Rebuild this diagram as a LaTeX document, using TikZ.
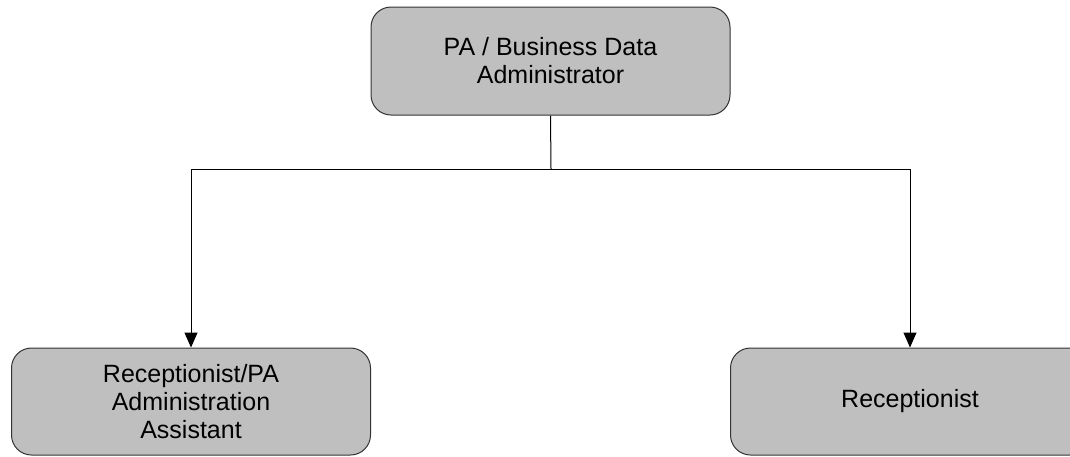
\documentclass[tikz,border=0pt]{standalone}
\usepackage{fontspec}
\setmainfont{Liberation Sans}
\usetikzlibrary{arrows.meta}
\tikzset{
  role/.style={draw=black!80, fill=black!25, line width=1pt, rounded corners=20pt,
    minimum width=359pt, minimum height=107pt, align=center, inner sep=0pt,
    font=\fontsize{25}{28}\selectfont},
  conn/.style={draw=black, line width=1pt},
  arr/.style={conn, -{Triangle[width=13pt,length=15pt]}}
}
\begin{document}
\begin{tikzpicture}[x=1pt,y=-1pt]
\useasboundingbox (0,0) rectangle (1070,456);
\clip (0,0) rectangle (1070,456);
\node[role, minimum height=108pt] (top) at (550.5,61) {PA / Business Data\\Administrator};
\node[role] (left) at (191,401.5) {Receptionist/PA\\Administration\\Assistant};
\node[role] (right) at (910,401.5) {Receptionist};
\coordinate (hub) at (551,169);
\draw[conn] (top.south) -- (hub);
\draw[arr] (hub) -| (left.north);
\draw[arr] (hub) -| (right.north);
\end{tikzpicture}
\end{document}
